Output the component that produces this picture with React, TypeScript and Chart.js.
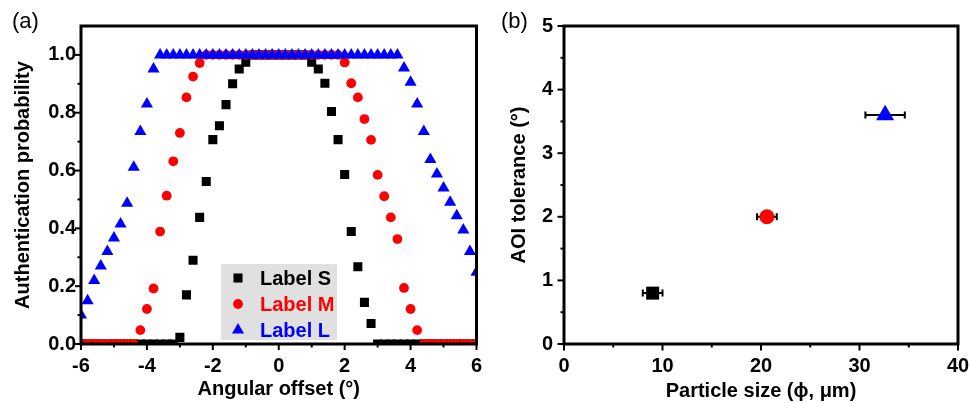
import React, { useEffect, useRef } from 'react';
import { Chart, registerables } from 'chart.js';

Chart.register(...registerables);

// ---------- Panel (a) data ----------
const angleOffsets = [
  -6.0, -5.8, -5.6, -5.4, -5.2, -5.0, -4.8, -4.6, -4.4, -4.2,
  -4.0, -3.8, -3.6, -3.4, -3.2, -3.0, -2.8, -2.6, -2.4, -2.2,
  -2.0, -1.8, -1.6, -1.4, -1.2, -1.0, -0.8, -0.6, -0.4, -0.2,
  0.0, 0.2, 0.4, 0.6, 0.8, 1.0, 1.2, 1.4, 1.6, 1.8,
  2.0, 2.2, 2.4, 2.6, 2.8, 3.0, 3.2, 3.4, 3.6, 3.8,
  4.0, 4.2, 4.4, 4.6, 4.8, 5.0, 5.2, 5.4, 5.6, 5.8, 6.0,
];
const probLabelS = [
  0, 0, 0, 0, 0, 0, 0, 0, 0, 0,
  0, 0, 0, 0, 0, 0.023, 0.17, 0.29, 0.438, 0.562,
  0.707, 0.755, 0.828, 0.9, 0.951, 0.975, 1, 1, 1, 1,
  1, 1, 1, 1, 1, 0.975, 0.951, 0.902, 0.804, 0.707,
  0.586, 0.389, 0.267, 0.144, 0.071, 0, 0, 0, 0, 0,
  0, 0, 0, 0, 0, 0, 0, 0, 0, 0, 0,
];
const probLabelM = [
  0, 0, 0, 0, 0, 0, 0, 0, 0, 0.048,
  0.121, 0.192, 0.389, 0.513, 0.632, 0.73, 0.853, 0.925, 0.972, 1,
  1, 1, 1, 1, 1, 1, 1, 1, 1, 1,
  1, 1, 1, 1, 1, 1, 1, 1, 1, 1,
  0.974, 0.902, 0.853, 0.778, 0.706, 0.585, 0.511, 0.438, 0.363, 0.194,
  0.121, 0.048, 0, 0, 0, 0, 0, 0, 0, 0, 0,
];
const probLabelL = [
  0.1, 0.15, 0.22, 0.27, 0.32, 0.367, 0.415, 0.487, 0.611, 0.735,
  0.83, 0.951, 1, 1, 1, 1, 1, 1, 1, 1,
  1, 1, 1, 1, 1, 1, 1, 1, 1, 1,
  1, 1, 1, 1, 1, 1, 1, 1, 1, 1,
  1, 1, 1, 1, 1, 1, 1, 1, 1, 0.955,
  0.905, 0.83, 0.735, 0.638, 0.588, 0.54, 0.49, 0.444, 0.394, 0.32, 0.248,
];
const seriesNames = ['Label S', 'Label M', 'Label L'];
const angleTicks = [-6, -4, -2, 0, 2, 4, 6];
const angleMinorTicks = [-5, -3, -1, 1, 3, 5];
const probTicks = [0, 0.2, 0.4, 0.6, 0.8, 1.0];
const probMinorTicks = [0.1, 0.3, 0.5, 0.7, 0.9];

// ---------- Panel (b) data ----------
const particleSize = [9.0, 20.6, 32.6];
const particleSizeErr = [1.0, 1.0, 2.0];
const aoiTolerance = [0.8, 2.0, 3.6];
const sizeTicks = [0, 10, 20, 30, 40];
const sizeMinorTicks = [5, 15, 25, 35];
const toleranceTicks = [0, 1, 2, 3, 4, 5];
const toleranceMinorTicks = [0.5, 1.5, 2.5, 3.5, 4.5];

const COLORS = ['#000000', '#ff0000', '#0000ff'];
const STYLES = ['rect', 'circle', 'triangle'];
const FONT = "'Liberation Sans', Arial, Helvetica, sans-serif";

function drawMarker(ctx: CanvasRenderingContext2D, style: string, x: number, y: number, r: number, color: string) {
  ctx.fillStyle = color;
  ctx.beginPath();
  if (style === 'rect') {
    const s = Math.SQRT1_2 * r;
    ctx.rect(x - s, y - s, 2 * s, 2 * s);
  } else if (style === 'circle') {
    ctx.arc(x, y, r, 0, Math.PI * 2);
  } else {
    let rad = 0;
    ctx.moveTo(x + Math.sin(rad) * r, y - Math.cos(rad) * r);
    rad += (2 * Math.PI) / 3;
    ctx.lineTo(x + Math.sin(rad) * r, y - Math.cos(rad) * r);
    rad += (2 * Math.PI) / 3;
    ctx.lineTo(x + Math.sin(rad) * r, y - Math.cos(rad) * r);
    ctx.closePath();
  }
  ctx.fill();
}

const framePlugin = {
  id: 'frame',
  afterDraw(chart: any, _args: any, opts: any) {
    const { ctx, chartArea: a, scales } = chart;
    const xs = scales.x;
    const ys = scales.y;
    ctx.save();
    ctx.strokeStyle = '#000';
    ctx.lineWidth = 2;
    const tickX = (vals: number[], len: number) => {
      vals.forEach((v) => {
        const px = xs.getPixelForValue(v);
        ctx.beginPath();
        ctx.moveTo(px, a.bottom);
        ctx.lineTo(px, a.bottom + len);
        ctx.stroke();
      });
    };
    const tickY = (vals: number[], len: number) => {
      vals.forEach((v) => {
        const py = ys.getPixelForValue(v);
        ctx.beginPath();
        ctx.moveTo(a.left, py);
        ctx.lineTo(a.left - len, py);
        ctx.stroke();
      });
    };
    tickX(opts.xMajor, opts.majorLen);
    tickX(opts.xMinor, opts.minorLen);
    tickY(opts.yMajor, opts.majorLen);
    tickY(opts.yMinor, opts.minorLen);
    ctx.lineWidth = 3;
    ctx.strokeRect(a.left, a.top, a.right - a.left, a.bottom - a.top);
    ctx.restore();
  },
};

const boxLegendPlugin = {
  id: 'boxLegend',
  afterDatasetsDraw(chart: any, _args: any, opts: any) {
    if (!opts || !opts.show) return;
    const ctx = chart.ctx;
    ctx.save();
    ctx.fillStyle = opts.background;
    ctx.fillRect(opts.left, opts.top, opts.width, opts.height);
    ctx.font = `bold ${opts.fontSize}px ${FONT}`;
    ctx.textBaseline = 'middle';
    ctx.textAlign = 'left';
    chart.data.datasets.forEach((ds: any, i: number) => {
      const y = opts.firstRowY + i * opts.rowGap;
      drawMarker(ctx, ds.pointStyle, opts.markerX, y, ds.pointRadius, ds.backgroundColor);
      ctx.fillStyle = ds.backgroundColor;
      ctx.fillText(ds.label, opts.textX, y + 1);
    });
    ctx.restore();
  },
};

const errorBarPlugin = {
  id: 'errorBars',
  beforeDatasetsDraw(chart: any, _args: any, opts: any) {
    const { ctx, scales } = chart;
    const xs = scales.x;
    const ys = scales.y;
    ctx.save();
    ctx.strokeStyle = '#000';
    ctx.lineWidth = 2;
    chart.data.datasets.forEach((ds: any) => {
      ds.data.forEach((p: any, j: number) => {
        const err = ds.errorX[j];
        const y = ys.getPixelForValue(p.y);
        const x1 = xs.getPixelForValue(p.x - err);
        const x2 = xs.getPixelForValue(p.x + err);
        ctx.beginPath();
        ctx.moveTo(x1, y);
        ctx.lineTo(x2, y);
        ctx.moveTo(x1, y - opts.cap);
        ctx.lineTo(x1, y + opts.cap);
        ctx.moveTo(x2, y - opts.cap);
        ctx.lineTo(x2, y + opts.cap);
        ctx.stroke();
      });
    });
    ctx.restore();
  },
};

const tickFont = { family: FONT, size: 20, weight: 'bold' as const };

function makeScales(cfg: any) {
  return {
    x: {
      type: 'linear',
      min: cfg.xMin,
      max: cfg.xMax,
      afterBuildTicks: (s: any) => {
        s.ticks = cfg.xTicks.map((v: number) => ({ value: v }));
      },
      afterFit: (s: any) => {
        s.height = cfg.xHeight;
        s.paddingLeft = 0;
        s.paddingRight = 0;
      },
      grid: { display: false, drawTicks: false },
      border: { display: false },
      ticks: { padding: cfg.xPad, color: '#000', font: tickFont, maxRotation: 0, callback: cfg.xFmt },
      title: {
        display: true,
        text: cfg.xTitle,
        color: '#000',
        font: { family: FONT, size: 20, weight: 'bold' },
        padding: { top: 0, bottom: cfg.xTitlePad },
      },
    },
    y: {
      type: 'linear',
      min: cfg.yMin,
      max: cfg.yMax,
      afterBuildTicks: (s: any) => {
        s.ticks = cfg.yTicks.map((v: number) => ({ value: v }));
      },
      afterFit: (s: any) => {
        s.width = cfg.yWidth;
        s.paddingTop = 0;
        s.paddingBottom = 0;
      },
      grid: { display: false, drawTicks: false },
      border: { display: false },
      ticks: { padding: cfg.yPad, color: '#000', font: tickFont, callback: cfg.yFmt },
      title: {
        display: true,
        text: cfg.yTitle,
        color: '#000',
        font: { family: FONT, size: 20, weight: 'bold' },
        padding: { top: cfg.yTitlePad, bottom: 0 },
      },
    },
  };
}

export default function App() {
  const refA = useRef<HTMLCanvasElement | null>(null);
  const refB = useRef<HTMLCanvasElement | null>(null);

  useEffect(() => {
    Chart.defaults.font.family = FONT;
    const seriesA = [probLabelS, probLabelM, probLabelL];
    const radiiA = [6.4, 4.9, 7];
    const chartA = new Chart(refA.current as HTMLCanvasElement, {
      type: 'scatter',
      data: {
        datasets: seriesNames.map((name, k) => ({
          label: name,
          data: angleOffsets.map((x, i) => ({ x, y: seriesA[k][i] })),
          pointStyle: STYLES[k],
          pointRadius: radiiA[k],
          pointHoverRadius: radiiA[k],
          pointBorderWidth: 0,
          backgroundColor: COLORS[k],
          borderColor: COLORS[k],
          order: 3 - k,
          clip: 0,
        })),
      } as any,
      options: {
        animation: false,
        responsive: false,
        events: [],
        layout: { padding: { left: 0, right: 8.5, top: 26, bottom: 0 } },
        plugins: {
          legend: { display: false },
          tooltip: { enabled: false },
          frame: {
            xMajor: angleTicks,
            xMinor: angleMinorTicks,
            yMajor: probTicks,
            yMinor: probMinorTicks,
            majorLen: 6,
            minorLen: 3.5,
          },
          boxLegend: {
            show: true,
            left: 221,
            top: 264,
            width: 116,
            height: 76,
            background: '#e0e0e0',
            markerX: 238,
            textX: 260,
            firstRowY: 278,
            rowGap: 26,
            fontSize: 20,
          },
        } as any,
        scales: makeScales({
          xMin: -6,
          xMax: 6,
          xTicks: angleTicks,
          xHeight: 59,
          xPad: 10,
          xFmt: (v: any) => String(v),
          xTitle: 'Angular offset (°)',
          xTitlePad: 2,
          yMin: 0,
          yMax: 1.1,
          yTicks: probTicks,
          yWidth: 81,
          yPad: 5,
          yFmt: (v: any) => Number(v).toFixed(1),
          yTitle: 'Authentication probability',
          yTitlePad: 11,
        }) as any,
      },
      plugins: [framePlugin, boxLegendPlugin],
    });

    const radiiB = [9.2, 7.5, 10.4];
    const chartB = new Chart(refB.current as HTMLCanvasElement, {
      type: 'scatter',
      data: {
        datasets: seriesNames.map((name, k) => ({
          label: name,
          data: [{ x: particleSize[k], y: aoiTolerance[k] }],
          errorX: [particleSizeErr[k]],
          pointStyle: STYLES[k],
          pointRadius: radiiB[k],
          pointHoverRadius: radiiB[k],
          pointBorderWidth: 0,
          backgroundColor: COLORS[k],
          borderColor: COLORS[k],
        })),
      } as any,
      options: {
        animation: false,
        responsive: false,
        events: [],
        layout: { padding: { left: 0, right: 12, top: 26, bottom: 0 } },
        plugins: {
          legend: { display: false },
          tooltip: { enabled: false },
          frame: {
            xMajor: sizeTicks,
            xMinor: sizeMinorTicks,
            yMajor: toleranceTicks,
            yMinor: toleranceMinorTicks,
            majorLen: 6.5,
            minorLen: 3.5,
          },
          errorBars: { cap: 3.5 },
        } as any,
        scales: makeScales({
          xMin: 0,
          xMax: 40,
          xTicks: sizeTicks,
          xHeight: 59,
          xPad: 10,
          xFmt: (v: any) => String(v),
          xTitle: 'Particle size (ϕ, μm)',
          xTitlePad: 0,
          yMin: 0,
          yMax: 5,
          yTicks: toleranceTicks,
          yWidth: 79,
          yPad: 11,
          yFmt: (v: any) => String(v),
          yTitle: 'AOI tolerance (°)',
          yTitlePad: 22,
        }) as any,
      },
      plugins: [framePlugin, errorBarPlugin],
    });

    return () => {
      chartA.destroy();
      chartB.destroy();
    };
  }, []);

  const panelLabel: React.CSSProperties = {
    position: 'absolute',
    top: 10,
    fontFamily: FONT,
    fontSize: 22,
    lineHeight: '22px',
    color: '#000',
    whiteSpace: 'nowrap',
  };

  return (
    <div style={{ position: 'fixed', left: 0, top: 0, width: 970, height: 403, background: '#fff', overflow: 'hidden' }}>
      <canvas ref={refA} width={485} height={403} style={{ position: 'absolute', left: 0, top: 0 }} />
      <canvas ref={refB} width={485} height={403} style={{ position: 'absolute', left: 485, top: 0 }} />
      <div style={{ ...panelLabel, left: 12 }}>(a)</div>
      <div style={{ ...panelLabel, left: 501 }}>(b)</div>
    </div>
  );
}
